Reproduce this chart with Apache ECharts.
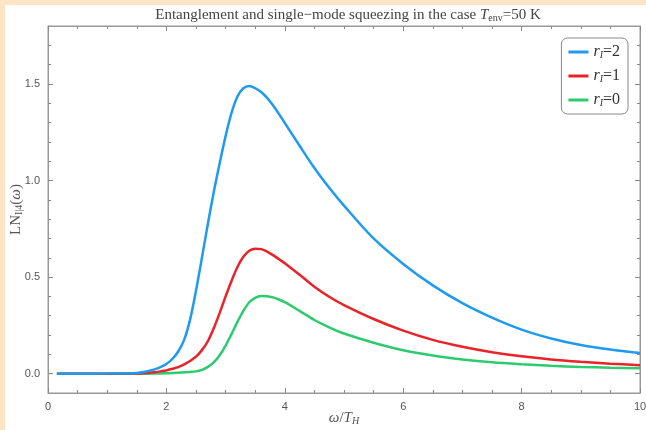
<!DOCTYPE html>
<html>
<head>
<meta charset="utf-8">
<script src="https://cdn.jsdelivr.net/npm/echarts@6/dist/echarts.min.js"></script>
<style>
  html, body { margin: 0; padding: 0; background: #fff; }
  #chart { width: 646px; height: 430px; }
</style>
</head>
<body>
<div id="chart"></div>
<script>
// omega / T_H
var omega = [0.15, 0.5, 1, 1.5, 1.7, 1.8, 1.9, 2.0, 2.1, 2.2, 2.3, 2.4, 2.5, 2.6, 2.7, 2.8, 2.9,
             3.0, 3.1, 3.2, 3.3, 3.4, 3.5, 3.6, 3.7, 3.8, 3.9, 4.0, 4.25, 4.5, 4.75,
             5.0, 5.5, 6.0, 6.5, 7.0, 7.5, 8.0, 8.5, 9.0, 9.5, 10];
// r_I = 2
var lnR2 = [0, 0, 0.0005, 0.004, 0.014, 0.022, 0.034, 0.05, 0.076, 0.115, 0.175, 0.28, 0.43, 0.60, 0.775, 0.94, 1.09,
            1.23, 1.35, 1.435, 1.478, 1.49, 1.478, 1.458, 1.428, 1.39, 1.345, 1.298, 1.18, 1.065, 0.963,
            0.87, 0.70, 0.568, 0.457, 0.365, 0.29, 0.228, 0.182, 0.148, 0.125, 0.107];
// r_I = 1
var lnR1 = [0, 0, 0, 0.001, 0.005, 0.008, 0.012, 0.017, 0.025, 0.034, 0.048, 0.066, 0.088, 0.122, 0.168, 0.235, 0.315,
            0.40, 0.48, 0.552, 0.605, 0.636, 0.647, 0.645, 0.632, 0.614, 0.593, 0.572, 0.512, 0.45, 0.398,
            0.355, 0.283, 0.223, 0.175, 0.139, 0.111, 0.09, 0.074, 0.062, 0.052, 0.044];
// r_I = 0
var lnR0 = [0, 0, 0, 0, 0, 0.001, 0.001, 0.002, 0.003, 0.005, 0.007, 0.009, 0.012, 0.02, 0.035, 0.058, 0.095,
            0.145, 0.205, 0.268, 0.325, 0.37, 0.393, 0.402, 0.401, 0.395, 0.384, 0.37, 0.325, 0.278, 0.24,
            0.208, 0.16, 0.121, 0.094, 0.074, 0.059, 0.049, 0.041, 0.035, 0.031, 0.028];

var seriesNames = ['r_I=2', 'r_I=1', 'r_I=0'];
var rValues = ['2', '1', '0'];
var colors = ['#1E9BEF', '#E8232A', '#2DCB70'];

var yMajor = [0, 0.5, 1.0, 1.5];
var yMinor = [0.1, 0.2, 0.3, 0.4, 0.6, 0.7, 0.8, 0.9, 1.1, 1.2, 1.3, 1.4, 1.6, 1.7];

function pairs(xs, ys) {
	var out = [];
	for (var i = 0; i < xs.length; i++) out.push([xs[i], ys[i]]);
	return out;
}

var frameColor = '#999';
var tickColor = '#888';
var labelColor = '#555';
var serif = '"Liberation Serif", "DejaVu Serif", serif';

function xAx(pos, showLabel) {
	var ax = {
		type: 'value', min: 0, max: 10, interval: 2, position: pos,
		axisLine: { show: true, onZero: false, lineStyle: { color: frameColor, width: 1 } },
		axisTick: { show: true, inside: true, length: 5, lineStyle: { color: tickColor, width: 1 } },
		minorTick: { show: true, splitNumber: 4, length: 3, lineStyle: { color: tickColor, width: 1 } },
		axisLabel: { show: showLabel, color: labelColor, fontSize: 11, margin: 8,
			fontFamily: 'Liberation Sans' },
		splitLine: { show: false }
	};
	if (showLabel) {
		ax.name = '{i|ω}{n|/}{i|T}{s|H}';
		ax.nameLocation = 'middle';
		ax.nameGap = 17;
		ax.nameMoveOverlap = false;
		ax.nameTextStyle = {
			rich: {
				i: { fontFamily: serif, fontStyle: 'italic', fontSize: 15, color: labelColor },
				n: { fontFamily: serif, fontSize: 15, color: labelColor },
				s: { fontFamily: serif, fontStyle: 'italic', fontSize: 10, color: labelColor, padding: [6, 0, 0, 0] }
			}
		};
	}
	return ax;
}

function yAx(pos, major, showLabel) {
	var ax = {
		type: 'value', min: -0.1, max: 1.8, position: pos,
		axisLine: { show: major, onZero: false, lineStyle: { color: frameColor, width: 1 } },
		axisTick: { show: true, inside: true, length: major ? 5 : 3,
			customValues: major ? yMajor : yMinor, lineStyle: { color: tickColor, width: 1 } },
		axisLabel: { show: showLabel, customValues: yMajor, color: labelColor, fontSize: 11, margin: 8,
			fontFamily: 'Liberation Sans',
			formatter: function (v) { return v.toFixed(1); } },
		splitLine: { show: false }
	};
	if (showLabel) {
		ax.name = '{n|LN}{s|I|4}{n|(}{i|ω}{n|)}';
		ax.nameLocation = 'middle';
		ax.nameGap = 24;
		ax.nameRotate = 90;
		ax.nameMoveOverlap = false;
		ax.nameTextStyle = {
			rich: {
				i: { fontFamily: serif, fontStyle: 'italic', fontSize: 15, color: labelColor },
				n: { fontFamily: serif, fontSize: 15, color: labelColor },
				s: { fontFamily: serif, fontSize: 10, color: labelColor, padding: [6, 0, 0, 0] }
			}
		};
	}
	return ax;
}

var series = [lnR2, lnR1, lnR0].map(function (ys, k) {
	return {
		name: seriesNames[k], type: 'line', xAxisIndex: 0, yAxisIndex: 0,
		data: pairs(omega, ys), smooth: 0.3, showSymbol: false,
		lineStyle: { color: colors[k], width: 2.5 },
		itemStyle: { color: colors[k] },
		z: 10 - k
	};
});

var option = {
	animation: false,
	title: {
		text: 'Entanglement and single\u2212mode squeezing in the case {i|T}{s|env}{n|=50 K}',
		left: 343, top: 2, textAlign: 'center',
		textStyle: {
			fontFamily: serif, fontSize: 15, fontWeight: 'normal', color: '#444',
			rich: {
				i: { fontFamily: serif, fontStyle: 'italic', fontSize: 15, color: '#444' },
				n: { fontFamily: serif, fontSize: 15, color: '#444' },
				s: { fontFamily: serif, fontSize: 10, color: '#444', padding: [6, 0, 0, 0] }
			}
		}
	},
	graphic: [
		{ type: 'rect', shape: { x: 0, y: 0, width: 646, height: 5 }, style: { fill: '#FEE3C6' }, z: 100 },
		{ type: 'rect', shape: { x: 0, y: 0, width: 5, height: 430 }, style: { fill: '#FEE3C6' }, z: 100 }
	],
	legend: {
		orient: 'vertical', right: 18, top: 38,
		data: seriesNames,
		icon: 'rect', itemWidth: 20, itemHeight: 3, itemGap: 8,
		padding: [6, 8, 6, 7],
		borderColor: '#888', borderWidth: 1, borderRadius: 6,
		backgroundColor: '#fff',
		formatter: function (name) {
			return '{i|r}{s|I}{n|=' + rValues[seriesNames.indexOf(name)] + '}';
		},
		textStyle: {
			rich: {
				i: { fontFamily: serif, fontStyle: 'italic', fontSize: 16, color: '#333' },
				n: { fontFamily: serif, fontSize: 16, color: '#333' },
				s: { fontFamily: serif, fontStyle: 'italic', fontSize: 10, color: '#333', padding: [6, 0, 0, 0] }
			}
		}
	},
	grid: { left: 48, right: 6, top: 26, bottom: 37, outerBoundsMode: 'none',
		show: true, borderColor: frameColor, borderWidth: 1, backgroundColor: 'transparent' },
	xAxis: [xAx('bottom', true), xAx('top', false)],
	yAxis: [yAx('left', true, true), yAx('left', false, false), yAx('right', true, false), yAx('right', false, false)],
	series: series
};

var myChart = echarts.init(document.getElementById('chart'));
myChart.setOption(option);
</script>
</body>
</html>
